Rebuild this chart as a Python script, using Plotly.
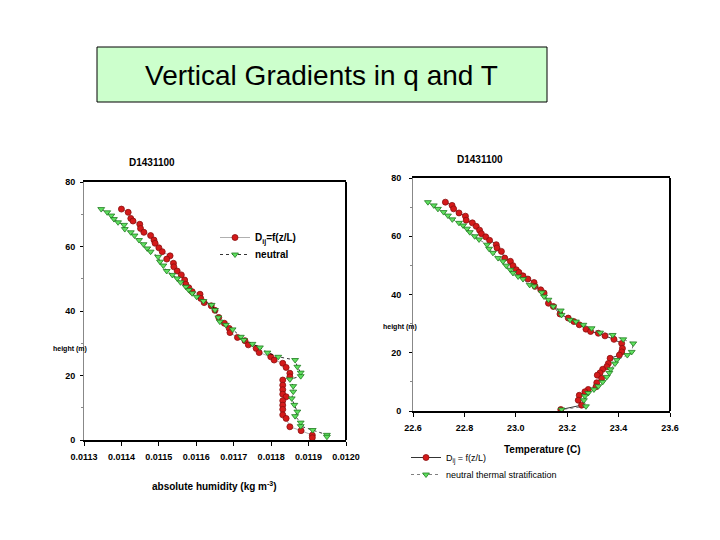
import plotly.graph_objects as go

# ---------------- data ----------------
# Left panel: absolute humidity (kg m-3) vs height (m)
q_dij = [0.011400, 0.011418, 0.011425, 0.011431, 0.011449, 0.011451, 0.011460, 0.011478,
         0.011487, 0.011490, 0.011500, 0.011509, 0.011530, 0.011521, 0.011539, 0.011540,
         0.011549, 0.011560, 0.011569, 0.011572, 0.011580, 0.011589, 0.011610, 0.011612,
         0.011621, 0.011640, 0.011650, 0.011660, 0.011675, 0.011688, 0.011690, 0.011710,
         0.011730, 0.011739, 0.011760, 0.011768, 0.011799, 0.011808, 0.011831, 0.011840,
         0.011850, 0.011850, 0.011831, 0.011831, 0.011831, 0.011831, 0.011840, 0.011831,
         0.011831, 0.011831, 0.011831, 0.011840, 0.011850, 0.011880, 0.011910, 0.011910]
z_dij = [71.6, 70.6, 68.7, 67.9, 66.9, 65.6, 64.4, 63.4,
         62.0, 61.0, 59.6, 58.4, 57.1, 56.1, 54.8, 53.7,
         52.4, 51.2, 49.6, 48.3, 47.2, 46.0, 45.2, 43.9,
         42.6, 41.6, 40.2, 38.0, 36.2, 34.6, 33.3, 31.8,
         30.8, 29.5, 28.4, 27.1, 25.8, 24.8, 23.8, 22.5,
         20.7, 19.6, 18.6, 17.0, 15.6, 14.2, 13.4, 12.2,
         10.8, 9.5, 7.8, 6.7, 4.1, 2.9, 1.5, 0.7]

q_neu = [0.011346, 0.011362, 0.011373, 0.011380, 0.011391, 0.011407, 0.011409, 0.011425,
         0.011435, 0.011447, 0.011459, 0.011469, 0.011478, 0.011498, 0.011503, 0.011512,
         0.011521, 0.011536, 0.011549, 0.011558, 0.011572, 0.011580, 0.011589, 0.011601,
         0.011619, 0.011641, 0.011650, 0.011659, 0.011663, 0.011679, 0.011697, 0.011719,
         0.011727, 0.011750, 0.011770, 0.011790, 0.011819, 0.011864, 0.011870, 0.011879,
         0.011879, 0.011850, 0.011859, 0.011859, 0.011855, 0.011862, 0.011870, 0.011864,
         0.011879, 0.011879, 0.011911, 0.011949, 0.011949]
z_neu = [71.6, 70.6, 69.6, 68.5, 67.5, 66.7, 65.4, 64.4,
         63.4, 62.0, 60.7, 59.4, 58.4, 56.8, 55.3, 54.1,
         52.4, 51.2, 50.1, 48.9, 47.5, 46.5, 45.5, 44.4,
         43.1, 41.9, 40.3, 38.0, 36.7, 35.7, 34.3, 32.0,
         31.0, 29.8, 28.7, 27.1, 25.8, 24.8, 22.7, 20.9,
         19.8, 18.8, 16.7, 15.0, 12.9, 10.9, 8.8, 7.4,
         5.4, 4.3, 3.1, 1.6, 1.0]

# Right panel: temperature (C) vs height (m)
t_dij = [22.726, 22.752, 22.758, 22.779, 22.804, 22.807, 22.831, 22.846, 22.859, 22.866,
         22.883, 22.898, 22.924, 22.927, 22.944, 22.957, 22.979, 22.989, 23.002, 23.012,
         23.028, 23.047, 23.071, 23.075, 23.097, 23.110, 23.127, 23.146, 23.172, 23.204,
         23.226, 23.247, 23.273, 23.291, 23.321, 23.347, 23.382, 23.412, 23.415, 23.412,
         23.403, 23.367, 23.360, 23.354, 23.338, 23.328, 23.317, 23.334, 23.315, 23.312,
         23.282, 23.269, 23.247, 23.243, 23.256, 23.175]
z_dij_t = [71.7, 70.6, 69.4, 68.0, 66.9, 65.5, 64.6, 63.4, 62.1, 60.9,
           59.8, 58.6, 57.1, 56.0, 54.8, 52.5, 51.4, 49.9, 48.5, 47.6,
           46.4, 45.3, 44.1, 42.8, 41.6, 40.5, 37.0, 35.9, 33.3, 31.9,
           30.7, 29.6, 28.1, 27.3, 26.7, 25.8, 24.6, 23.2, 21.5, 20.3,
           19.2, 18.1, 16.3, 15.2, 14.3, 13.1, 12.3, 11.2, 9.7, 8.3,
           7.4, 6.6, 5.4, 3.7, 2.0, 0.5]

t_neu = [22.658, 22.681, 22.697, 22.719, 22.736, 22.753, 22.779, 22.795, 22.810, 22.821,
         22.840, 22.857, 22.888, 22.896, 22.911, 22.931, 22.950, 22.963, 22.979, 22.989,
         23.009, 23.028, 23.054, 23.071, 23.101, 23.110, 23.127, 23.146, 23.175, 23.178,
         23.211, 23.234, 23.263, 23.295, 23.328, 23.377, 23.418, 23.457, 23.451, 23.434,
         23.393, 23.386, 23.369, 23.364, 23.354, 23.338, 23.321, 23.304, 23.282, 23.269,
         23.265, 23.273, 23.178]
z_neu_t = [71.7, 70.6, 69.4, 68.3, 67.1, 65.8, 64.6, 63.7, 62.6, 61.4,
           60.0, 58.9, 57.1, 55.7, 54.3, 52.5, 51.4, 49.9, 48.5, 47.4,
           46.2, 45.3, 43.3, 42.8, 40.7, 39.3, 38.2, 35.9, 34.5, 33.0,
           31.3, 30.7, 29.6, 28.4, 26.9, 26.1, 24.6, 23.2, 20.3, 19.2,
           17.5, 16.3, 14.3, 13.1, 11.7, 10.0, 8.5, 7.4, 6.2, 5.1,
           3.7, 1.6, 0.5]

q_ticks = [0.0113, 0.0114, 0.0115, 0.0116, 0.0117, 0.0118, 0.0119, 0.0120]
t_ticks = [22.6, 22.8, 23.0, 23.2, 23.4, 23.6]
z_ticks = [0, 20, 40, 60, 80]

# ---------------- helpers (page pixels -> paper fractions) ----------------
OFF = 8  # page body margin


def X(px):
    return (px - OFF) / 720


def Y(py):
    return (540 - (py - OFF)) / 540


# ---------------- figure ----------------
FONT = "Liberation Sans"
RED = "#d41a1a"
RED_EDGE = "#8a0f0f"
GREEN = "#5fe05f"
GREEN_EDGE = "#1e7a1e"

fig = go.Figure()

red_marker = dict(symbol="circle", size=6, color=RED, line=dict(color=RED_EDGE, width=0.8))
green_marker = dict(symbol="triangle-down", size=6, color=GREEN, line=dict(color=GREEN_EDGE, width=0.8))

fig.add_trace(go.Scatter(x=q_dij, y=z_dij, mode="lines+markers", name="D<sub>ij</sub>=f(z/L)",
                         line=dict(color="#b0b0b0", width=1), marker=red_marker,
                         xaxis="x", yaxis="y", legend="legend"))
fig.add_trace(go.Scatter(x=q_neu, y=z_neu, mode="lines+markers", name="neutral",
                         line=dict(color="black", width=0.8, dash="dot"), marker=green_marker,
                         xaxis="x", yaxis="y", legend="legend2"))
fig.add_trace(go.Scatter(x=t_dij, y=z_dij_t, mode="lines+markers", name="D<sub>ij</sub> = f(z/L)",
                         line=dict(color="black", width=0.8), marker=red_marker,
                         xaxis="x2", yaxis="y2", legend="legend3"))
fig.add_trace(go.Scatter(x=t_neu, y=z_neu_t, mode="lines+markers", name="neutral thermal stratification",
                         line=dict(color="#606060", width=0.8, dash="dot"), marker=green_marker,
                         xaxis="x2", yaxis="y2", legend="legend4"))

tickfont = dict(family=FONT, size=9, color="black", weight="bold")

common_x = dict(showgrid=False, zeroline=False, showline=True, linecolor="black", linewidth=2,
                mirror=True, ticks="outside", ticklen=4, tickcolor="black", tickfont=tickfont,
                ticklabelstandoff=3, automargin=False)
common_y = dict(showgrid=False, zeroline=False, showline=True, linecolor="#888888", linewidth=1,
                ticks="outside", ticklen=3, tickcolor="black", tickfont=tickfont,
                range=[0, 80], tickvals=z_ticks, automargin=False,
                minor=dict(ticks="outside", ticklen=2, dtick=10, tickcolor="#888888"))

leg_bold = dict(bgcolor="rgba(0,0,0,0)", itemwidth=30, xanchor="left", yanchor="top",
                font=dict(family=FONT, size=10, color="black", weight="bold"))
leg_norm = dict(bgcolor="rgba(0,0,0,0)", itemwidth=30, xanchor="left", yanchor="top",
                font=dict(family=FONT, size=9, color="black"))

fig.update_layout(
    width=720, height=540, autosize=False,
    margin=dict(l=0, r=0, t=0, b=0, pad=0, autoexpand=False),
    paper_bgcolor="white", plot_bgcolor="white",
    xaxis=dict(domain=[X(84), X(346)], range=[0.0113, 0.0120], tickvals=q_ticks,
               ticktext=[f"{v:.4f}" for v in q_ticks], anchor="y", **common_x),
    yaxis=dict(domain=[Y(440), Y(182)], anchor="x", ticklabelstandoff=3, **common_y),
    xaxis2=dict(domain=[X(413), X(670)], range=[22.6, 23.6], tickvals=t_ticks,
                ticktext=[f"{v:.1f}" for v in t_ticks], anchor="y2", **common_x),
    yaxis2=dict(domain=[Y(411), Y(178)], anchor="x2", ticklabelstandoff=6, **common_y),
    legend=dict(x=X(215), y=Y(223), **leg_bold),
    legend2=dict(x=X(215), y=Y(240), **leg_bold),
    legend3=dict(x=X(406), y=Y(443), **leg_norm),
    legend4=dict(x=X(406), y=Y(460), **leg_norm),
    showlegend=True,
)

# right border of each plot frame
for xr, yr in (("x domain", "y domain"), ("x2 domain", "y2 domain")):
    fig.add_shape(type="line", xref=xr, yref=yr, x0=1, x1=1, y0=0, y1=1,
                  line=dict(color="black", width=2))

# title box
fig.add_shape(type="rect", xref="paper", yref="paper",
              x0=X(97), x1=X(547), y0=Y(102), y1=Y(47),
              fillcolor="#ccffcc", line=dict(color="black", width=1), layer="below")

ann = [
    dict(text="Vertical Gradients in q and T", x=X(321), y=Y(75),
         font=dict(family=FONT, size=28, color="black")),
    dict(text="D1431100", x=X(152), y=Y(162),
         font=dict(family=FONT, size=10, color="black", weight="bold")),
    dict(text="D1431100", x=X(480), y=Y(160),
         font=dict(family=FONT, size=10, color="black", weight="bold")),
    dict(text="absolute humidity (kg m<sup>-3</sup>)", x=X(215), y=Y(486),
         font=dict(family=FONT, size=10, color="black", weight="bold")),
    dict(text="Temperature (C)", x=X(542), y=Y(449),
         font=dict(family=FONT, size=10, color="black", weight="bold")),
    dict(text="height (m)", x=X(70), y=Y(349),
         font=dict(family=FONT, size=7, color="black", weight="bold")),
    dict(text="height (m)", x=X(400), y=Y(327),
         font=dict(family=FONT, size=7, color="black", weight="bold")),
]
for a in ann:
    fig.add_annotation(xref="paper", yref="paper", showarrow=False,
                       xanchor="center", yanchor="middle", **a)

fig.write_html("out.html")
